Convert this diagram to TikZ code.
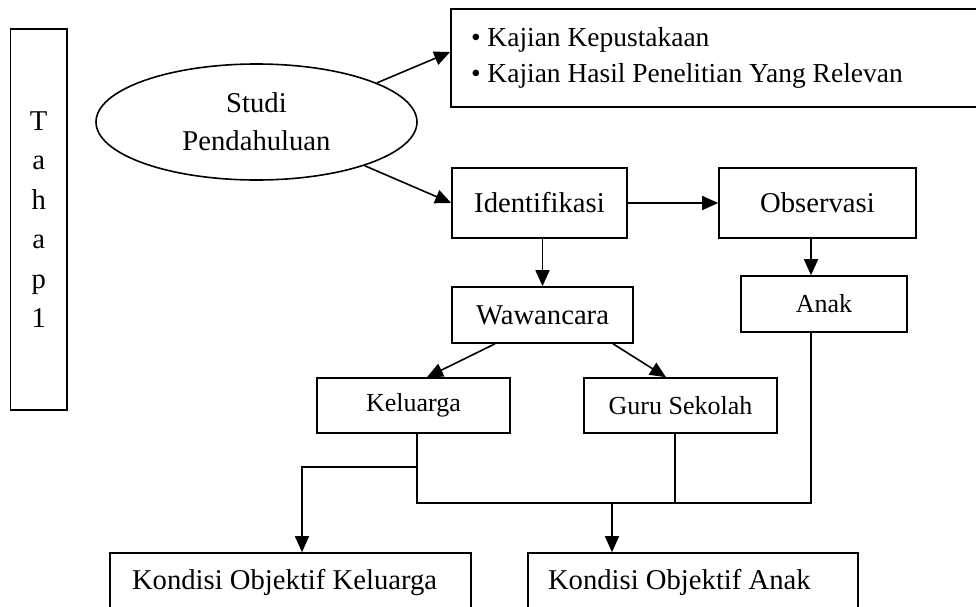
\documentclass[tikz,border=0pt]{standalone}
\usepackage{fontspec}
\setmainfont{Liberation Serif}
\usepackage{tikz}
\usetikzlibrary{arrows.meta,shapes,calc}

\begin{document}
\begin{tikzpicture}
[x=0.75pt,y=-0.75pt,line width=1.2pt,>={Triangle[length=12pt,width=10.5pt]}]
\tikzset{
	box/.style = {rectangle, draw, inner sep = 0, font = \fontsize{21.5}{27}\selectfont},
	smallbox/.style = {box, font = \fontsize{19.5}{24}\selectfont},
	listbox/.style = {box, align = flush left, inner xsep = 15pt},
	bus/.style = {line width = 1pt}
}
\useasboundingbox (0,0) rectangle (976,607);

\node(tahap) [box, minimum width = 42.4pt, minimum height = 285.75pt, align = center,
	font = \fontsize{21.5}{29.6}\selectfont] at (38.75,219.5) {T\\a\\h\\a\\p\\1};
\node(studi) [ellipse, draw, inner sep = 0, minimum width = 240.75pt, minimum height = 87pt,
	align = center, font = \fontsize{21.5}{28.5}\selectfont] at (256.5,122) {Studi\\Pendahuluan};
\node(kajian) [listbox, text width = 366.75pt, minimum height = 73.5pt,
	font = \fontsize{20.6}{27}\selectfont] at (715.5,58)
	{\textbullet\ Kajian Kepustakaan\\\textbullet\ Kajian Hasil Penelitian Yang Relevan};

\node(ident) [box, minimum width = 131.25pt, minimum height = 52.5pt] at (539.5,203) {Identifikasi};
\node(obs) [box, minimum width = 147.75pt, minimum height = 52.5pt] at (817.5,203) {Observasi};
\node(waw) [box, minimum width = 135.75pt, minimum height = 42pt] at (542.5,315) {Wawancara};
\node(anak) [smallbox, minimum width = 124.5pt, minimum height = 42pt] at (824,304) {Anak};
\node(kel) [smallbox, minimum width = 144.75pt, minimum height = 41.25pt] at (413.5,405.5) {Keluarga};
\node(guru) [smallbox, minimum width = 144.75pt, minimum height = 41.25pt] at (680.5,405.5) {Guru Sekolah};

\node(kok) [listbox, inner xsep = 16.5pt, text width = 237.75pt, minimum height = 44.25pt]
	at (290.5,582.5) {Kondisi Objektif Keluarga};
\node(koa) [listbox, text width = 217.5pt, minimum height = 44.25pt]
	at (693,582.5) {Kondisi Objektif Anak};

\draw [->] (studi.18) -- ([yshift=4.5pt]kajian.west);
\draw [->] (studi.-22) -- (ident.west);
\draw [->] (ident.east) -- (obs.west);
\draw [->] (waw.north |- ident.south) -- (waw.north);
\coordinate(od) at ($(obs.south)+(-6.5,0)$);
\draw [->] (od) -- (od |- anak.north);
\draw [->] ($(waw.south)+(-47.5,0)$) -- ($(kel.north)+(13.5,0)$);
\draw [->] ($(waw.south)+(70.5,0)$) -- ($(guru.north)+(-14.5,0)$);

\coordinate(bus) at (0,503);
\coordinate(branch) at (0,467);
\coordinate(kd) at ($(kel.south)+(3.5,0)$);
\coordinate(gd) at ($(guru.south)+(-5.5,0)$);
\coordinate(ad) at ($(anak.south)+(-13,0)$);
\coordinate(kt) at ($(kok.north)+(11.5,0)$);
\coordinate(at) at ($(koa.north)+(-81,0)$);
\draw [bus] (kd) -- (kd |- bus) -| (ad);
\draw [bus] (gd) -- (gd |- bus);
\draw [bus,->] (kd |- branch) -| (kt);
\draw [bus,->] (at |- bus) -- (at);
\end{tikzpicture}
\end{document}
